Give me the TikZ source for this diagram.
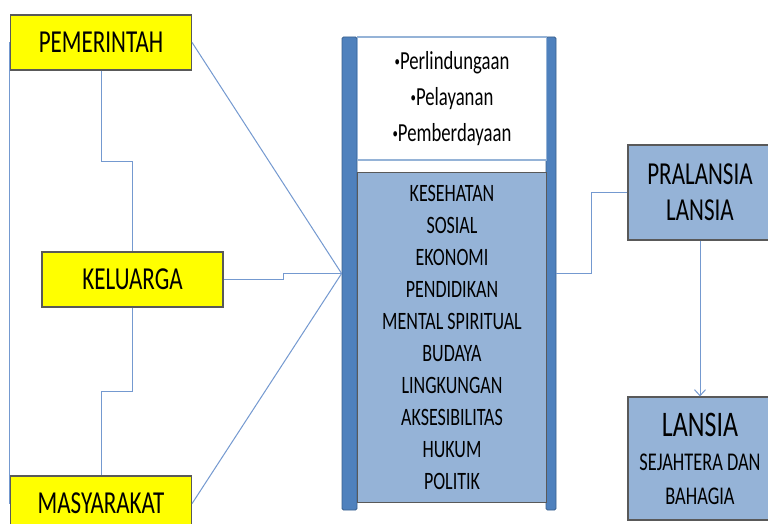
\documentclass[tikz,border=0pt]{standalone}
\usepackage{fontspec}
\newfontfamily\diafont[FakeStretch=0.72]{Carlito}
\usepackage{tikz}
\usetikzlibrary{positioning,arrows.meta}
\definecolor{boxyellow}{rgb}{1, 1, 0}
\definecolor{barblue}{RGB}{79, 129, 189}
\definecolor{lightblue}{RGB}{149, 179, 215}
\definecolor{lineblue}{RGB}{116, 153, 208}
\definecolor{boxgray}{RGB}{89, 89, 89}
\newcommand{\itemdot}{\raisebox{3pt}{\fontsize{15}{15}\selectfont•}}
\tikzset{
  yellowbox/.style={draw=boxgray, line width=1.2pt, fill=boxyellow, inner sep=0pt,
    minimum width=181pt, minimum height=55pt, font=\diafont\fontsize{32}{36}\selectfont},
  bluebox/.style={draw=boxgray, line width=1.2pt, fill=lightblue, inner sep=0pt, align=center,
    minimum width=144pt},
  sidebar/.style={draw=barblue!75!black, line width=0.8pt, fill=barblue, rounded corners=1.5pt,
    minimum height=473pt, inner sep=0pt},
  link/.style={draw=lineblue, line width=1pt}
}
\begin{document}
\begin{tikzpicture}[x=1pt, y=-1pt]
            \clip (0,0) rectangle (768,524);
            \fill[white] (0,0) rectangle (768,524);
            \node (pem) at (101, 42.5) [yellowbox] {PEMERINTAH};
            \node (kel) at (132.5, 279.5) [yellowbox] {KELUARGA};
            \node (mas) at (101, 503.5) [yellowbox] {MASYARAKAT};
            \node (lbar) at (349.5, 273.5) [sidebar, minimum width=15pt] {};
            \node (rbar) at (551, 273.5) [sidebar, minimum width=10pt] {};
            \node (topbox) at (452, 98.5) [draw=lightblue, line width=1.2pt, fill=white, inner sep=0pt,
              minimum width=189pt, minimum height=123pt, align=center,
              font=\diafont\fontsize{26}{36}\selectfont]
              {\itemdot Perlindungaan\\\itemdot Pelayanan\\\itemdot Pemberdayaan};
            \node (list) at (452, 337.5) [bluebox, minimum width=189pt, minimum height=330pt,
              font=\diafont\fontsize{25}{32}\selectfont]
              {KESEHATAN\\SOSIAL\\EKONOMI\\PENDIDIKAN\\MENTAL SPIRITUAL\\BUDAYA\\LINGKUNGAN\\AKSESIBILITAS\\HUKUM\\POLITIK};
            \node (pra) at (700, 192.5) [bluebox, minimum height=95pt,
              font=\diafont\fontsize{32}{36}\selectfont] {PRALANSIA\\LANSIA};
            \node (lan) at (700, 458.5) [bluebox, minimum height=123pt,
              font=\diafont\fontsize{25.5}{34}\selectfont]
              {{\fontsize{36}{36}\selectfont LANSIA}\\SEJAHTERA DAN\\BAHAGIA};
            \draw [link] (pem.west) -- (mas.west);
            \draw [link] (pem.south) -- ++(0,91) -| (kel.north);
            \draw [link] (kel.south) -- ++(0,84) -| (mas.north);
            \draw [link] (kel.east) -- ++(60,0) |- (lbar.west);
            \draw [link] (pem.east) -- (lbar.west);
            \draw [link] (mas.east) -- (lbar.west);
            \draw [link] (rbar.east) -- ++(35,0) |- (pra.west);
            \draw [link, -{Straight Barb[length=6pt, width=11pt]}] (pra.south) -- (lan.north);
        \end{tikzpicture}
\end{document}
